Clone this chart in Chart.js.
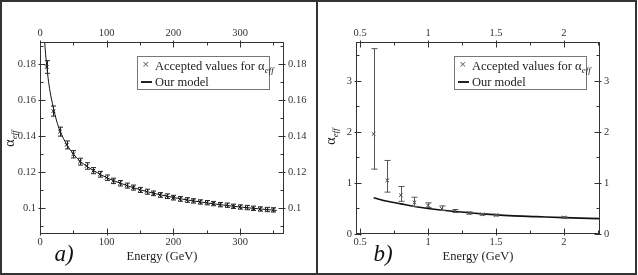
<!DOCTYPE html>
<html>
<head>
<meta charset="utf-8">
<script src="https://cdn.jsdelivr.net/npm/chart.js@4.4.1/dist/chart.umd.min.js"></script>
<style>
    body { margin: 0; background: #fff; }
    #frame { position: relative; width: 638px; height: 275px; background: #fff; overflow: hidden; }
    #border { position: absolute; left: 0; top: 0; width: 637px; height: 275px; box-sizing: border-box; border: 2px solid #333; }
    #divider { position: absolute; left: 316px; top: 0; width: 2px; height: 275px; background: #333; }
    canvas { position: absolute; top: 2px; }
    #chartA { left: 2px; }
    #chartB { left: 318px; }
    .ytitle { position: absolute; font: 14px 'Liberation Serif', serif; color: #222; transform: rotate(-90deg); white-space: nowrap; }
    .ytitle sub, .legend sub { font-size: 9px; font-style: italic; vertical-align: -3px; }
    .panel-tag { position: absolute; font: italic 23px 'Liberation Serif', serif; color: #111; }
    .legend { position: absolute; width: 133px; height: 34px; box-sizing: border-box; border: 1px solid #777; background: #fff; font: 12.5px 'Liberation Serif', serif; color: #222; }
    .legend .row { position: absolute; left: 17px; height: 16px; line-height: 16px; white-space: nowrap; }
    .legend .mk { position: absolute; left: 4px; top: 2px; font: 9px 'DejaVu Sans', sans-serif; color: #555; }
    .legend .ln { position: absolute; left: 3px; top: 24px; width: 11px; height: 2px; background: #222; }
</style>
</head>
<body>
<div id="frame">
    <canvas id="chartA" width="314" height="271"></canvas>
    <canvas id="chartB" width="317" height="271"></canvas>
    <div id="border"></div>
    <div id="divider"></div>
</div>
<script>
// Panel a) - high energy points
const aEnergy = [10, 20, 30, 40, 50, 60, 70, 80, 90, 100, 110, 120, 130, 140, 150, 160, 170, 180,
    190, 200, 210, 220, 230, 240, 250, 260, 270, 280, 290, 300, 310, 320, 330, 340, 350];
const aAlpha = [0.1785, 0.1540, 0.1426, 0.1352, 0.1300, 0.1259, 0.1235, 0.1209, 0.1189, 0.1170,
    0.1152, 0.1139, 0.1126, 0.1115, 0.1102, 0.1092, 0.1083, 0.1074, 0.1067, 0.1059, 0.1052, 0.1046,
    0.1041, 0.1035, 0.1031, 0.1026, 0.1020, 0.1017, 0.1011, 0.1007, 0.1004, 0.1000, 0.0996, 0.0993, 0.0991];
const aError = [0.0035, 0.0028, 0.0025, 0.0022, 0.0020, 0.0019, 0.0018, 0.0017, 0.0016, 0.0015,
    0.0015, 0.0015, 0.0014, 0.0014, 0.0014, 0.0014, 0.0013, 0.0013, 0.0013, 0.0013, 0.0013, 0.0013,
    0.0012, 0.0012, 0.0012, 0.0012, 0.0012, 0.0012, 0.0012, 0.0012, 0.0012, 0.0012, 0.0012, 0.0012, 0.0012];
const aModelEnergy = [7, 8, 10, 12, 15, 20, 25, 30, 40, 50, 60, 70, 80, 100, 120, 150, 200, 250, 300, 355];
const aModel = [0.1924, 0.1875, 0.1795, 0.1728, 0.1650, 0.1560, 0.1485, 0.1430, 0.1355, 0.1302, 0.1262,
    0.1234, 0.1210, 0.1170, 0.1140, 0.1103, 0.1060, 0.1030, 0.1007, 0.0988];
const aXMajor = [0, 100, 200, 300];
const aXMinor = [50, 150, 250, 350];
const aYMajor = [0.1, 0.12, 0.14, 0.16, 0.18];
const aYMinor = [0.09, 0.11, 0.13, 0.15, 0.17, 0.19];

// Panel b) - low energy points
const bEnergy = [0.6, 0.7, 0.8, 0.9, 1.0, 1.1, 1.2, 1.3, 1.4, 1.5, 2.0];
const bAlpha = [1.96, 1.05, 0.76, 0.62, 0.56, 0.50, 0.45, 0.41, 0.385, 0.37, 0.325];
const bLow = [1.27, 0.82, 0.64, 0.54, 0.52, 0.46, 0.42, 0.39, 0.37, 0.355, 0.315];
const bHigh = [3.63, 1.44, 0.93, 0.72, 0.61, 0.55, 0.48, 0.43, 0.40, 0.385, 0.335];
const bModelEnergy = [0.6, 0.7, 0.8, 0.9, 1.0, 1.2, 1.4, 1.6, 1.8, 2.0, 2.27];
const bModel = [0.71, 0.64, 0.59, 0.54, 0.50, 0.44, 0.395, 0.36, 0.34, 0.32, 0.30];
const bXMajor = [0.5, 1, 1.5, 2];
const bXMinor = [0.75, 1.25, 1.75, 2.25];
const bYMajor = [0, 1, 2, 3];
const bYMinor = [0.5, 1.5, 2.5, 3.5];

const tickFont = { family: "'Liberation Serif', serif", size: 10.5 };

// Frame, inner ticks and error bars
const graceLook = {
    id: 'graceLook',
    afterDatasetsDraw (chart, args, opts) {
        const ctx = chart.ctx;
        const xs = chart.scales.x;
        const ys = chart.scales.y;
        chart.data.datasets.forEach((ds) => {
            if (!ds.errLow) return;
            ctx.save();
            ctx.strokeStyle = opts.errColor;
            ctx.lineWidth = 1;
            ds.data.forEach((pt, i) => {
                const px = Math.round(xs.getPixelForValue(pt.x)) + 0.5;
                const lo = ys.getPixelForValue(ds.errLow[i]);
                const hi = ys.getPixelForValue(ds.errHigh[i]);
                ctx.beginPath();
                ctx.moveTo(px, lo);
                ctx.lineTo(px, hi);
                ctx.moveTo(px - opts.cap, lo);
                ctx.lineTo(px + opts.cap, lo);
                ctx.moveTo(px - opts.cap, hi);
                ctx.lineTo(px + opts.cap, hi);
                ctx.stroke();
            });
            ctx.restore();
        });
    },
    afterDraw (chart) {
        const ctx = chart.ctx;
        const area = chart.chartArea;
        const l = Math.round(area.left) + 0.5;
        const r = Math.round(area.right) - 0.5;
        const t = Math.round(area.top) + 0.5;
        const b = Math.round(area.bottom) - 0.5;
        ctx.save();
        ctx.strokeStyle = '#333';
        ctx.lineWidth = 1;
        ctx.strokeRect(l, t, r - l, b - t);
        ctx.beginPath();
        Object.values(chart.scales).forEach((scale) => {
            scale.ticks.forEach((tick) => {
                const major = scale.options.majors.includes(tick.value);
                const inner = major ? 5 : 3;
                const outer = major ? 2 : 0;
                const p = Math.round(scale.getPixelForValue(tick.value)) + 0.5;
                if (scale.position === 'left') { ctx.moveTo(l - outer, p); ctx.lineTo(l + inner, p); }
                if (scale.position === 'right') { ctx.moveTo(r + outer, p); ctx.lineTo(r - inner, p); }
                if (scale.position === 'top') { ctx.moveTo(p, t - outer); ctx.lineTo(p, t + inner); }
                if (scale.position === 'bottom') { ctx.moveTo(p, b + outer); ctx.lineTo(p, b - inner); }
            });
        });
        ctx.stroke();
        ctx.restore();
    }
};

const makeAxis = (position, min, max, majors, minors, size, title) => ({
    type: 'linear',
    position: position,
    min: min,
    max: max,
    majors: majors,
    grid: { display: false, drawTicks: false },
    border: { display: false },
    title: title ? {
        display: true,
        text: title,
        color: '#222',
        font: { family: "'Liberation Serif', serif", size: 12.5 },
        padding: { top: 0, bottom: 9 }
    } : { display: false },
    ticks: {
        autoSkip: false,
        maxRotation: 0,
        includeBounds: false,
        padding: (position === 'left' || position === 'right') ? 4 : 2,
        color: '#333',
        font: tickFont,
        callback: (value) => majors.includes(value) ? String(value) : ''
    },
    afterBuildTicks: (scale) => {
        scale.ticks = majors.concat(minors).filter((v) => v >= min && v <= max).map((v) => ({ value: v }));
    },
    afterFit: (scale) => {
        if (position === 'left' || position === 'right') {
            scale.width = size;
        } else {
            scale.height = size;
        }
        scale.paddingLeft = 0;
        scale.paddingRight = 0;
        scale.paddingTop = 0;
        scale.paddingBottom = 0;
    }
});

const makePanel = (canvasId, p) => {
    const points = p.energy.map((x, i) => ({ x: x, y: p.alpha[i] }));
    const model = p.modelEnergy.map((x, i) => ({ x: x, y: p.model[i] }));
    return new Chart(document.getElementById(canvasId), {
        type: 'scatter',
        data: {
            datasets: [{
                label: 'Accepted values',
                data: points,
                errLow: p.low,
                errHigh: p.high,
                pointStyle: 'crossRot',
                pointRadius: p.markSize,
                borderColor: p.markColor,
                backgroundColor: p.markColor,
                pointBorderWidth: 1
            }, {
                label: 'Our model',
                data: model,
                showLine: true,
                pointRadius: 0,
                borderColor: '#111',
                borderWidth: p.lineWidth,
                cubicInterpolationMode: 'monotone'
            }]
        },
        options: {
            responsive: false,
            animation: false,
            devicePixelRatio: 1,
            layout: { padding: 0 },
            plugins: {
                legend: { display: false },
                tooltip: { enabled: false },
                graceLook: { errColor: p.errColor, cap: p.cap }
            },
            scales: {
                x: makeAxis('bottom', p.xMin, p.xMax, p.xMajor, p.xMinor, 39, 'Energy (GeV)'),
                x2: makeAxis('top', p.xMin, p.xMax, p.xMajor, p.xMinor, 40),
                y: makeAxis('left', p.yMin, p.yMax, p.yMajor, p.yMinor, 38),
                y2: makeAxis('right', p.yMin, p.yMax, p.yMajor, p.yMinor, p.rightSize)
            }
        },
        plugins: [graceLook]
    });
};

makePanel('chartA', {
    energy: aEnergy,
    alpha: aAlpha,
    low: aAlpha.map((v, i) => v - aError[i]),
    high: aAlpha.map((v, i) => v + aError[i]),
    modelEnergy: aModelEnergy,
    model: aModel,
    xMin: 0, xMax: 366, xMajor: aXMajor, xMinor: aXMinor,
    yMin: 0.0857, yMax: 0.1924, yMajor: aYMajor, yMinor: aYMinor,
    rightSize: 32,
    markSize: 2.5, markColor: '#111', errColor: '#222', cap: 2.5, lineWidth: 1
});

makePanel('chartB', {
    energy: bEnergy,
    alpha: bAlpha,
    low: bLow,
    high: bHigh,
    modelEnergy: bModelEnergy,
    model: bModel,
    xMin: 0.47, xMax: 2.265, xMajor: bXMajor, xMinor: bXMinor,
    yMin: 0, yMax: 3.76, yMajor: bYMajor, yMinor: bYMinor,
    rightSize: 35,
    markSize: 2.5, markColor: '#444', errColor: '#555', cap: 3, lineWidth: 1.6
});

// Overlay texts: y titles, panel tags, legends
const frame = document.getElementById('frame');

const addText = (cls, html, cx, cy) => {
    const el = document.createElement('div');
    el.className = cls;
    el.innerHTML = html;
    frame.appendChild(el);
    el.style.left = (cx - el.offsetWidth / 2) + 'px';
    el.style.top = (cy - el.offsetHeight / 2) + 'px';
};

const addLegend = (left, top) => {
    const el = document.createElement('div');
    el.className = 'legend';
    el.style.left = left + 'px';
    el.style.top = top + 'px';
    el.innerHTML = '<span class="mk">&#215;</span><div class="row" style="top:1px">Accepted values for &alpha;<sub>eff</sub></div>' +
        '<span class="ln"></span><div class="row" style="top:17px">Our model</div>';
    frame.appendChild(el);
};

addText('ytitle', '&alpha;<sub>eff</sub>', 10, 138);
addText('ytitle', '&alpha;<sub>eff</sub>', 331, 136);
addText('panel-tag', 'a)', 64, 254);
addText('panel-tag', 'b)', 383, 254);
addLegend(137, 56);
addLegend(454, 56);
</script>
</body>
</html>
